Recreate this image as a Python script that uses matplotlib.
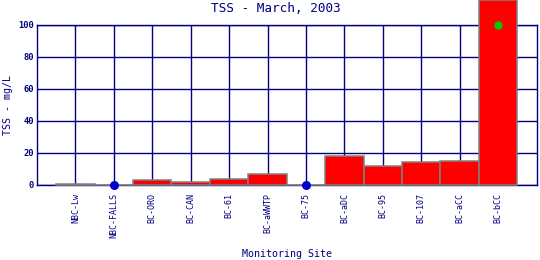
import matplotlib
matplotlib.use("Agg")
import matplotlib.pyplot as plt
import numpy as np

sites = ["NBC-Lw", "NBC-FALLS", "BC-ORO", "BC-CAN", "BC-61", "BC-aWWTP",
         "BC-75", "BC-aDC", "BC-95", "BC-107", "BC-aCC", "BC-bCC"]
tss = [0.5, 0.0, 3.0, 1.7, 3.5, 6.7, 0.0, 18.0, 11.7, 14.2, 14.8, 115.0]
nondetect = ["NBC-FALLS", "BC-75"]
standard_site = ["BC-bCC"]
standard_value = [100]
yticks = [0, 20, 40, 60, 80, 100]

navy = "#000080"
mono = "DejaVu Sans Mono"

fig = plt.figure(figsize=(5.4, 2.6), dpi=100)
ax = fig.add_axes([37/540, 1 - 185/260, 499.5/540, 160.5/260])

x = np.arange(1, len(sites) + 1)
bar_vals = [v if s not in nondetect else 0 for s, v in zip(sites, tss)]
ax.bar(x, bar_vals, width=1.0, color="#ff0000", edgecolor="#808080",
       linewidth=1.1, zorder=3, clip_on=False)

nd_x = [x[sites.index(s)] for s in nondetect]
ax.plot(nd_x, [0]*len(nd_x), "o", color="#0000cc", markersize=5.5,
        zorder=4, clip_on=False)
st_x = [x[sites.index(s)] for s in standard_site]
ax.plot(st_x, standard_value, "o", color="#00cc00", markersize=5,
        zorder=4, clip_on=False)

ax.set_xlim(0, len(sites) + 1)
ax.set_ylim(0, 100)
ax.set_xticks(x)
ax.set_xticklabels(sites, rotation=90, fontsize=6, family=mono, color=navy)
ax.set_yticks(yticks)
ax.set_yticklabels([str(v) for v in yticks], fontsize=6.3, family=mono,
                   fontweight="bold", color=navy)
ax.tick_params(axis="both", length=0, pad=2)
ax.tick_params(axis="x", pad=6)
ax.grid(True, color=navy, linewidth=1.0, zorder=1)
ax.set_axisbelow(True)
for sp in ax.spines.values():
    sp.set_color(navy)
    sp.set_linewidth(1.0)

fig.text(8/540, 1 - 105/260, "TSS - mg/L", rotation=90, ha="center",
         va="center", fontsize=7.2, family=mono, color=navy)
ax.set_xlabel("Monitoring Site", fontsize=7.2, family=mono, color=navy, labelpad=8)
fig.text(276/540, 1 - 9/260, "TSS - March, 2003", ha="center", va="center",
         fontsize=9.2, family=mono, color=navy)

fig.savefig("out.png", dpi=100)
